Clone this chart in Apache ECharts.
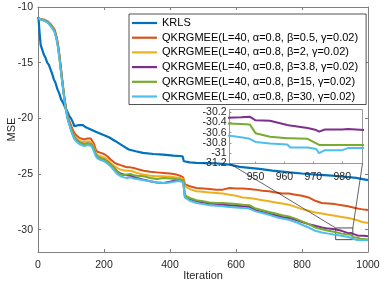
<!DOCTYPE html>
<html>
<head>
<meta charset="utf-8">
<script src="https://cdn.jsdelivr.net/npm/echarts@6/dist/echarts.min.js"></script>
<style>html,body{margin:0;padding:0;background:#fff}#c{width:382px;height:287px}</style>
</head>
<body>
<div id="c"></div>
<script>
// ---------- data ----------
const seriesNames = [
  'KRLS',
  'QKRGMEE(L=40, α=0.8, β=0.5, γ=0.02)',
  'QKRGMEE(L=40, α=0.8, β=2, γ=0.02)',
  'QKRGMEE(L=40, α=0.8, β=3.8, γ=0.02)',
  'QKRGMEE(L=40, α=0.8, β=15, γ=0.02)',
  'QKRGMEE(L=40, α=0.8, β=30, γ=0.02)'
];
const seriesColors = ['#0072BD', '#D95319', '#EDB120', '#7E2F8E', '#77AC30', '#4DBEEE'];

const krlsIter = [0,2,5,8,11,14,18,22,28,33,38,43,48,53,59,65,70,76,82,89,95,100,105,110,116,125,136,145,160,175,195,215,235,256,275,296,318,350,379,410,438,442,460,480,540,581,611,641,671,710,762,800,843,880,914,964,1000];
const krlsMSE  = [-10.9,-11.2,-12.4,-13.4,-13.3,-13.5,-14.3,-14.5,-15.0,-15.2,-15.6,-16.0,-16.5,-16.8,-17.4,-17.8,-18.3,-18.6,-19.0,-19.4,-19.8,-20.0,-20.3,-20.7,-20.7,-20.6,-20.6,-20.8,-21.0,-21.2,-21.45,-21.7,-22.05,-22.45,-22.8,-22.95,-23.1,-23.2,-23.26,-23.35,-23.4,-23.85,-23.95,-24.0,-24.05,-24.16,-24.36,-24.45,-24.54,-24.7,-24.85,-24.95,-25.05,-25.12,-25.2,-25.35,-25.55];

const qIter = [0,5,10,15,20,25,30,35,40,45,50,55,60,65,70,75,80,85,90,95,100,105,110,115,120,125,130,140,150,155,160,165,170,175,180,190,200,210,220,230,240,250,260,270,280,290,300,320,340,360,380,400,420,430,440,445,450,460,480,500,520,540,560,580,600,620,640,660,680,700,720,740,760,780,800,820,840,860,880,900,920,940,945,948,950,955,961,962,968,971,972,974,980,982,988,1000];

const mseBeta05 = [-11.00,-11.05,-11.10,-11.15,-11.15,-11.25,-11.30,-11.40,-11.60,-11.75,-12.00,-12.50,-13.20,-14.30,-15.60,-16.90,-18.10,-19.10,-19.80,-20.25,-20.60,-21.00,-21.30,-21.50,-21.60,-21.75,-21.80,-21.90,-21.80,-21.75,-21.80,-21.95,-22.30,-22.80,-23.00,-23.10,-23.20,-23.40,-23.70,-23.95,-24.10,-24.20,-24.30,-24.40,-24.40,-24.45,-24.55,-24.70,-24.80,-24.85,-24.90,-24.95,-25.05,-25.15,-25.30,-25.90,-26.00,-26.10,-26.25,-26.30,-26.35,-26.40,-26.40,-26.25,-26.30,-26.30,-26.35,-26.40,-26.50,-26.55,-26.65,-26.75,-26.75,-26.85,-26.95,-27.10,-27.40,-27.60,-27.65,-27.70,-27.80,-27.90,-27.93,-27.95,-27.96,-28.00,-28.05,-28.05,-28.10,-28.12,-28.12,-28.13,-28.15,-28.16,-28.18,-28.22];
const mseBeta2  = [-11.00,-11.06,-11.12,-11.16,-11.20,-11.30,-11.35,-11.50,-11.70,-11.85,-12.10,-12.60,-13.35,-14.45,-15.75,-17.00,-18.20,-19.20,-19.95,-20.45,-20.85,-21.25,-21.55,-21.75,-21.85,-22.00,-22.05,-22.15,-22.05,-22.00,-22.10,-22.30,-22.65,-23.10,-23.30,-23.40,-23.50,-23.70,-24.00,-24.25,-24.45,-24.60,-24.65,-24.70,-24.70,-24.80,-24.90,-25.05,-25.15,-25.20,-25.20,-25.25,-25.30,-25.35,-25.45,-26.10,-26.20,-26.35,-26.55,-26.60,-26.65,-26.70,-26.75,-26.85,-26.95,-27.10,-27.15,-27.25,-27.35,-27.45,-27.55,-27.65,-27.75,-27.95,-28.15,-28.30,-28.45,-28.55,-28.65,-28.75,-28.85,-28.95,-28.98,-29.00,-29.02,-29.05,-29.10,-29.10,-29.15,-29.20,-29.20,-29.22,-29.28,-29.30,-29.33,-29.40];
const mseBeta38 = [-11.00,-11.06,-11.12,-11.17,-11.22,-11.30,-11.38,-11.55,-11.75,-11.90,-12.15,-12.65,-13.40,-14.50,-15.80,-17.05,-18.25,-19.25,-20.00,-20.50,-20.95,-21.35,-21.70,-21.90,-22.00,-22.15,-22.20,-22.35,-22.25,-22.20,-22.30,-22.50,-22.85,-23.25,-23.45,-23.60,-23.70,-23.90,-24.15,-24.45,-24.75,-24.95,-25.05,-25.10,-25.15,-25.25,-25.35,-25.50,-25.65,-25.75,-25.80,-25.70,-25.55,-25.50,-25.60,-27.00,-27.10,-27.25,-27.45,-27.55,-27.65,-27.70,-27.75,-27.80,-27.85,-27.90,-27.95,-28.25,-28.40,-28.55,-28.70,-28.85,-28.95,-29.10,-29.30,-29.50,-29.65,-29.80,-29.90,-29.95,-30.10,-30.31,-30.30,-30.29,-30.36,-30.37,-30.45,-30.46,-30.51,-30.55,-30.58,-30.54,-30.54,-30.53,-30.55,-30.58];
const mseBeta15 = [-11.00,-11.07,-11.13,-11.18,-11.22,-11.32,-11.38,-11.52,-11.72,-11.88,-12.15,-12.65,-13.40,-14.50,-15.80,-17.05,-18.25,-19.25,-20.00,-20.50,-20.95,-21.35,-21.70,-21.90,-22.00,-22.15,-22.25,-22.35,-22.25,-22.20,-22.30,-22.50,-22.85,-23.25,-23.45,-23.60,-23.70,-23.90,-24.15,-24.45,-24.80,-25.05,-25.10,-25.05,-25.00,-25.10,-25.15,-25.20,-25.35,-25.45,-25.35,-25.40,-25.45,-25.50,-25.60,-26.80,-27.00,-27.15,-27.35,-27.45,-27.55,-27.60,-27.60,-27.65,-27.70,-27.75,-27.80,-28.10,-28.25,-28.40,-28.55,-28.70,-28.80,-29.00,-29.25,-29.50,-29.80,-29.95,-30.10,-30.20,-30.35,-30.42,-30.43,-30.44,-30.61,-30.68,-30.71,-30.71,-30.72,-30.81,-30.84,-30.84,-30.84,-30.84,-30.84,-30.88];
const mseBeta30 = [-11.00,-11.08,-11.15,-11.20,-11.25,-11.35,-11.42,-11.55,-11.78,-11.95,-12.25,-12.75,-13.55,-14.65,-15.95,-17.15,-18.35,-19.35,-20.10,-20.60,-21.10,-21.50,-21.85,-22.05,-22.15,-22.30,-22.40,-22.50,-22.40,-22.35,-22.45,-22.65,-23.00,-23.40,-23.60,-23.75,-23.85,-24.05,-24.30,-24.65,-25.00,-25.20,-25.30,-25.35,-25.30,-25.40,-25.45,-25.55,-25.65,-25.75,-25.80,-25.75,-25.65,-25.65,-25.75,-27.10,-27.25,-27.40,-27.60,-27.70,-27.80,-27.85,-27.90,-27.95,-28.00,-28.05,-28.10,-28.35,-28.50,-28.65,-28.85,-29.00,-29.10,-29.30,-29.55,-29.80,-30.10,-30.25,-30.35,-30.45,-30.55,-30.65,-30.69,-30.72,-30.78,-30.81,-30.83,-30.89,-30.89,-30.92,-31.00,-30.94,-30.94,-30.90,-30.90,-30.95];

const xTicks = [0, 200, 400, 600, 800, 1000];
const yTicks = [-30, -25, -20, -15, -10];
const insetXTicks = [950, 960, 970, 980];
const insetYTicksA = [-31.2, -30.8, -30.4];
const insetYTicksB = [-31, -30.6, -30.2];
const insetXRange = [941, 987];
const insetYRange = [-31.2, -30.15];
const zoomBox = [[902, -29.84], [954, -30.89]];

// ---------- chart ----------
const FONT = 'Liberation Sans, Arial, Helvetica, sans-serif';
const AX = '#808080';
const TXT = '#262626';
const chart = echarts.init(document.getElementById('c'), null, {renderer: 'canvas'});
const qData = [mseBeta05, mseBeta2, mseBeta38, mseBeta15, mseBeta30];
const pairs = (xs, ys) => xs.map((x, i) => [x, ys[i]]);

const series = [];
series.push({
  name: seriesNames[0], type: 'line', xAxisIndex: 0, yAxisIndex: 0,
  data: pairs(krlsIter, krlsMSE), symbol: 'none', showSymbol: false,
  lineStyle: {color: seriesColors[0], width: 2.2}, itemStyle: {color: seriesColors[0]},
  markArea: {
    silent: true,
    itemStyle: {color: 'rgba(0,0,0,0)', borderColor: '#222', borderWidth: 0.8},
    data: [[{coord: zoomBox[0]}, {coord: zoomBox[1]}]]
  }
});
qData.forEach((d, k) => {
  series.push({
    name: seriesNames[k + 1], type: 'line', xAxisIndex: 0, yAxisIndex: 0,
    data: pairs(qIter, d), symbol: 'none', showSymbol: false,
    lineStyle: {color: seriesColors[k + 1], width: 2}, itemStyle: {color: seriesColors[k + 1]}
  });
});
[2, 3, 4].forEach(k => {
  series.push({
    name: seriesNames[k + 1], type: 'line', xAxisIndex: 2, yAxisIndex: 2,
    data: pairs(qIter, qData[k]).filter(p => p[0] >= 930), symbol: 'none', showSymbol: false,
    clip: true, z: 10,
    lineStyle: {color: seriesColors[k + 1], width: 2}, itemStyle: {color: seriesColors[k + 1]}
  });
});

const axisCommon = {
  axisLine: {show: true, onZero: false, lineStyle: {color: AX, width: 1}},
  splitLine: {show: false},
  axisTick: {inside: true, length: 3, lineStyle: {color: AX}},
  axisLabel: {color: TXT, fontSize: 10.5, fontFamily: FONT}
};
const insetYLabel = ticks => ({color: TXT, fontSize: 10.5, fontFamily: FONT, margin: 3, customValues: ticks,
  showMinLabel: true, showMaxLabel: true, hideOverlap: false,
  formatter: v => String(Math.round(v * 10) / 10)});

chart.setOption({
  animation: false,
  backgroundColor: '#fff',
  grid: [
    {left: 38, top: 7, width: 330, height: 245, containLabel: false, outerBoundsMode: 'none'},
    {left: 229.5, top: 109.5, width: 133, height: 54, show: true, backgroundColor: '#fff', borderColor: '#999', borderWidth: 1, z: 5, containLabel: false, outerBoundsMode: 'none'}
  ],
  xAxis: [
    Object.assign({}, axisCommon, {
      type: 'value', gridIndex: 0, min: 0, max: 1000, interval: 200, position: 'bottom',
      name: 'Iteration', nameLocation: 'middle', nameGap: 18, nameMoveOverlap: false,
      nameTextStyle: {color: TXT, fontSize: 11, fontFamily: FONT},
      axisLabel: {color: TXT, fontSize: 10.5, fontFamily: FONT, margin: 8, formatter: v => String(v)}
    }),
    Object.assign({}, axisCommon, {
      type: 'value', gridIndex: 0, min: 0, max: 1000, interval: 200, position: 'top',
      axisLabel: {show: false}
    }),
    Object.assign({}, axisCommon, {
      type: 'value', gridIndex: 1, min: insetXRange[0], max: insetXRange[1], position: 'bottom', z: 6,
      axisLine: {show: true, onZero: false, lineStyle: {color: '#999', width: 1}},
      axisTick: {inside: true, length: 2, lineStyle: {color: '#999'}, customValues: insetXTicks},
      axisLabel: {color: TXT, fontSize: 10.5, fontFamily: FONT, margin: 8, customValues: insetXTicks,
        showMinLabel: true, showMaxLabel: true, formatter: v => String(v)}
    })
  ],
  yAxis: [
    Object.assign({}, axisCommon, {
      type: 'value', gridIndex: 0, min: -32, max: -10, position: 'left',
      name: 'MSE', nameLocation: 'middle', nameGap: 21, nameMoveOverlap: false,
      nameTextStyle: {color: TXT, fontSize: 11, fontFamily: FONT},
      axisTick: {inside: true, length: 3, lineStyle: {color: AX}, customValues: yTicks},
      axisLabel: {color: TXT, fontSize: 10.5, fontFamily: FONT, margin: 5, customValues: yTicks,
        showMinLabel: true, showMaxLabel: true}
    }),
    Object.assign({}, axisCommon, {
      type: 'value', gridIndex: 0, min: -32, max: -10, position: 'right',
      axisTick: {inside: true, length: 3, lineStyle: {color: AX}, customValues: yTicks},
      axisLabel: {show: false}
    }),
    Object.assign({}, axisCommon, {
      type: 'value', gridIndex: 1, min: insetYRange[0], max: insetYRange[1], position: 'left', z: 6,
      axisLine: {show: true, onZero: false, lineStyle: {color: '#999', width: 1}},
      axisTick: {inside: true, length: 2, lineStyle: {color: '#999'}, customValues: insetYTicksA.concat(insetYTicksB)},
      axisLabel: insetYLabel(insetYTicksA)
    }),
    Object.assign({}, axisCommon, {
      type: 'value', gridIndex: 1, min: insetYRange[0], max: insetYRange[1], position: 'left', offset: 0, z: 6,
      axisLine: {show: false}, axisTick: {show: false},
      axisLabel: insetYLabel(insetYTicksB)
    })
  ],
  legend: {
    data: seriesNames.map(n => ({name: n, icon: 'rect'})),
    orient: 'vertical', left: 129, top: 14,
    itemWidth: 25, itemHeight: 2.2, itemGap: 2.7, padding: [3, 8, 2, 3],
    borderColor: '#262626', borderWidth: 0.8, backgroundColor: '#fff',
    textStyle: {color: '#000', fontSize: 11, lineHeight: 12, fontFamily: FONT}
  },
  series: series
});

// connector lines from zoom box to inset
const mainIdx = {seriesIndex: 0};
const insetIdx = {seriesIndex: 6};
const bl = chart.convertToPixel(insetIdx, [insetXRange[0], insetYRange[0]]);
const br = chart.convertToPixel(insetIdx, [insetXRange[1], insetYRange[0]]);
const tl = chart.convertToPixel(mainIdx, [zoomBox[0][0], zoomBox[0][1]]);
const tr = chart.convertToPixel(mainIdx, [zoomBox[1][0], zoomBox[0][1]]);
chart.setOption({
  graphic: [
    {type: 'line', shape: {x1: bl[0], y1: bl[1], x2: tl[0], y2: tl[1]}, style: {stroke: '#222', lineWidth: 0.7}, z: 20, silent: true},
    {type: 'line', shape: {x1: br[0], y1: br[1], x2: tr[0], y2: tr[1]}, style: {stroke: '#222', lineWidth: 0.7}, z: 20, silent: true}
  ]
});
</script>
</body>
</html>
